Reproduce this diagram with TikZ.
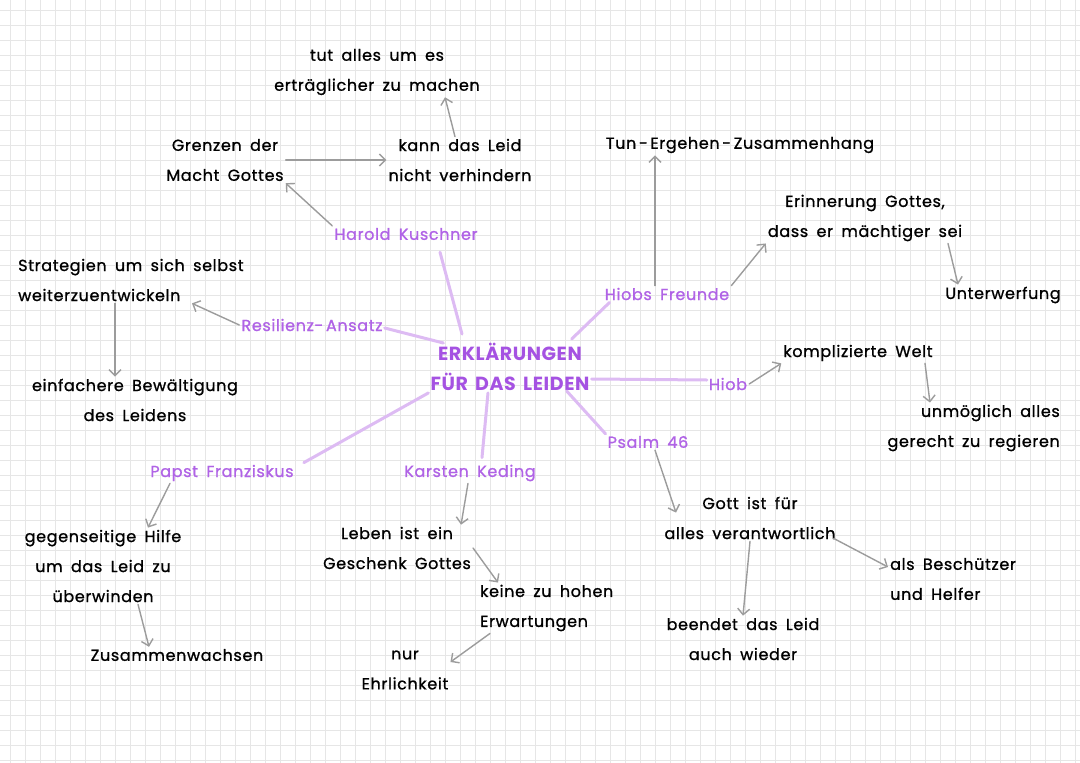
\documentclass[tikz,border=0pt]{standalone}
\usepackage{fontspec}
\setmainfont{Poppins}[LetterSpace=4, WordSpace=1.7, FakeBold=1]
\newfontfamily\headfont{Poppins}[LetterSpace=3, WordSpace=1.6]
\usetikzlibrary{arrows.meta}

\definecolor{titlepurple}{HTML}{A552E2}
\definecolor{lblpurple}{HTML}{B063E6}
\definecolor{spokepurple}{HTML}{DDBBF3}
\definecolor{arrgray}{HTML}{9C9C9C}
\definecolor{gridgray}{HTML}{E6E6E6}

\begin{document}
\begin{tikzpicture}[x=1pt, y=-1pt,
	every node/.style={font=\fontsize{16}{30}\selectfont, inner sep=2pt, align=center},
	txt/.style={text=black},
	lbl/.style={text=lblpurple},
	headline/.style={text=titlepurple, font=\fontsize{19}{30}\selectfont\headfont\bfseries},
	spoke/.style={draw=spokepurple, line width=3pt, line cap=round},
	arr/.style={draw=arrgray, line width=1.4pt, line cap=round, -{Straight Barb[length=6pt, width=12pt, line width=1.4pt]}},
	gridline/.style={draw=gridgray, line width=0.6pt}]
	\useasboundingbox (0,0) rectangle (1080,763);
	\fill[white] (0,0) rectangle (1080,763);
	\foreach \gx in {10,25,...,1080} \draw[gridline] (\gx,0) -- (\gx,763);
	\foreach \gy in {10,25,...,763} \draw[gridline] (0,\gy) -- (1080,\gy);
	% centre
	\node[headline] (title) at (510,367) {ERKLÄRUNGEN\\FÜR DAS LEIDEN};
	% labels
	\node[lbl] (harold) at (406,234) {Harold Kuschner};
	\node[lbl] (hiobsf) at (667,294) {Hiobs Freunde};
	\node[lbl] (resil) at (312,325) {Resilienz-\,Ansatz};
	\node[lbl] (hiob) at (728,384) {Hiob};
	\node[lbl] (psalm) at (648,442) {Psalm 46};
	\node[lbl] (karsten) at (470,473) {Karsten Keding};
	\node[lbl] (papst) at (222,473) {Papst Franziskus};
	% texts
	\node[txt] (tut) at (377,72) {tut alles um es\\erträglicher zu machen};
	\node[txt] (kann) at (460,160) {kann das Leid\\nicht verhindern};
	\node[txt] (grenzen) at (225,160) {Grenzen der\\Macht Gottes};
	\node[txt] (tun) at (740,145) {Tun\,-\,Ergehen\,-\,Zusammenhang};
	\node[txt] (erinn) at (865,218) {Erinnerung Gottes,\\dass er mächtiger sei};
	\node[txt] (unterw) at (1003,295) {Unterwerfung};
	\node[txt, anchor=west, align=left] (strat) at (16,280) {Strategien um sich selbst\\weiterzuentwickeln};
	\node[txt] (einf) at (135,400) {einfachere Bewältigung\\des Leidens};
	\node[txt] (kompl) at (858,353) {komplizierte Welt};
	\node[txt, anchor=east, align=right] (unmog) at (1062,428) {unmöglich alles\\gerecht zu regieren};
	\node[txt] (gott) at (750,518) {Gott ist für\\alles verantwortlich};
	\node[txt, anchor=west, align=left] (schutz) at (888,579) {als Beschützer\\und Helfer};
	\node[txt] (beendet) at (743,639) {beendet das Leid\\auch wieder};
	\node[txt] (leben) at (397,548) {Leben ist ein\\Geschenk Gottes};
	\node[txt, anchor=west, align=left] (keine) at (478,608) {keine zu hohen\\Erwartungen};
	\node[txt] (nur) at (405,670) {nur\\Ehrlichkeit};
	\node[txt] (gegen) at (103,566) {gegenseitige Hilfe\\um das Leid zu\\überwinden};
	\node[txt] (zus) at (177,655) {Zusammenwachsen};
	% spokes
	\draw[spoke] ([xshift=-48pt,yshift=7pt]title.north) -- ([xshift=34pt,yshift=-10pt]harold.south);
	\draw[spoke] ([xshift=-20pt,yshift=2pt]title.north east) -- ([xshift=7pt]hiobsf.south west);
	\draw[spoke] ([xshift=15pt,yshift=24pt]title.west) -- ([yshift=-3pt]resil.east);
	\draw[spoke] ([yshift=-12pt]title.east) -- ([yshift=4pt]hiob.west);
	\draw[spoke] ([xshift=-25pt,yshift=2pt]title.south east) -- (psalm.north west);
	\draw[spoke] ([xshift=-22pt]title.south) -- ([xshift=12pt,yshift=5pt]karsten.north);
	\draw[spoke] (title.south west) -- ([xshift=8pt]papst.north east);
	% arrows
	\draw[arr] (grenzen.east) -- (kann.west);
	\draw[arr] ([xshift=-5pt]kann.north) -- ([xshift=68pt]tut.south);
	\draw[arr] (harold.north west) -- (grenzen.south east);
	\draw[arr] ([xshift=-12pt]hiobsf.north) -- ([xshift=-85pt]tun.south);
	\draw[arr] (hiobsf.north east) -- (erinn.south west);
	\draw[arr] ([xshift=83pt]erinn.south) -- ([xshift=-45pt]unterw.north);
	\draw[arr] (resil.west) -- ([xshift=176pt]strat.south west);
	\draw[arr] ([xshift=99pt]strat.south west) -- ([xshift=-20pt]einf.north);
	\draw[arr] (hiob.east) -- (kompl.south west);
	\draw[arr] ([xshift=67pt]kompl.south) -- ([xshift=-132pt]unmog.north east);
	\draw[arr] ([xshift=7pt]psalm.south) -- ([xshift=-74pt,yshift=-18pt]gott.north);
	\draw[arr] ([xshift=-4pt,yshift=3pt]gott.south east) -- ([yshift=12pt]schutz.west);
	\draw[arr] (gott.south) -- (beendet.north);
	\draw[arr] ([xshift=-2pt]karsten.south) -- ([xshift=-12pt]leben.north east);
	\draw[arr] (leben.east) -- ([xshift=20pt]keine.north west);
	\draw[arr] ([xshift=12pt]keine.south west) -- ([yshift=8pt]nur.east);
	\draw[arr] ([xshift=-52pt]papst.south) -- ([xshift=45pt]gegen.north);
	\draw[arr] ([xshift=35pt]gegen.south) -- ([xshift=-28pt]zus.north);
\end{tikzpicture}
\end{document}
